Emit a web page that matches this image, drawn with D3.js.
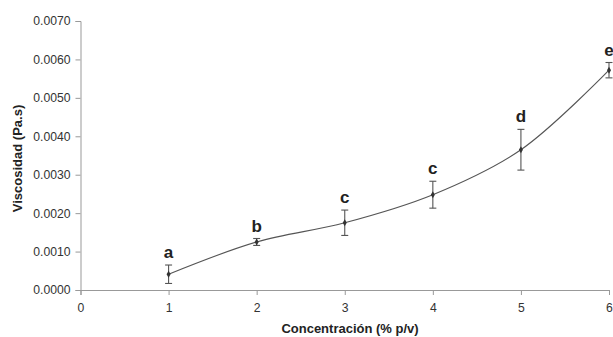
<!DOCTYPE html>
<html>
<head>
<meta charset="utf-8">
<script src="https://cdn.jsdelivr.net/npm/d3@7"></script>
<style>
  body { margin: 0; background: #fff; }
  svg { display: block; font-family: Arial, "Liberation Sans", sans-serif; }
</style>
</head>
<body>
<svg id="chart" width="613" height="337"></svg>
<script>
const concentracion = [1, 2, 3, 4, 5, 6];
const viscosidad = [0.00041, 0.00125, 0.00175, 0.00248, 0.00365, 0.00572];
const errores = [0.00024, 0.00009, 0.00033, 0.00035, 0.00053, 0.00020];
const letras = ["a", "b", "c", "c", "d", "e"];
const xTicks = [0, 1, 2, 3, 4, 5, 6];
const yTicks = [0, 0.001, 0.002, 0.003, 0.004, 0.005, 0.006, 0.007];

const width = 613, height = 337;
const margin = { top: 21, right: 4, bottom: 47, left: 80.5 };
const svg = d3.select("#chart");

const x = d3.scaleLinear().domain([0, 6]).range([margin.left, width - margin.right]);
const y = d3.scaleLinear().domain([0, 0.007]).range([height - margin.bottom, margin.top]);

const axisColor = "#999";
const textColor = "#333";

// y axis
const yAxis = svg.append("g")
    .attr("transform", `translate(${ margin.left },0)`)
    .call(d3.axisLeft(y).tickValues(yTicks).tickFormat(d3.format(".4f")).tickSize(5).tickPadding(5));
yAxis.selectAll("text").attr("font-size", 12.2).attr("fill", textColor).attr("font-family", "Arial, 'Liberation Sans', sans-serif");

// x axis
const xAxis = svg.append("g")
    .attr("transform", `translate(0,${ height - margin.bottom })`)
    .call(d3.axisBottom(x).tickValues(xTicks).tickFormat(d3.format("d")).tickSize(5).tickPadding(8));
xAxis.selectAll("text").attr("font-size", 12.2).attr("fill", textColor).attr("font-family", "Arial, 'Liberation Sans', sans-serif");

svg.selectAll(".domain, .tick line").attr("stroke", axisColor);

// smoothed line
const line = d3.line()
    .x((d, i) => x(concentracion[i]))
    .y(d => y(d))
    .curve(d3.curveCatmullRom.alpha(0.5));

svg.append("path")
    .datum(viscosidad)
    .attr("fill", "none")
    .attr("stroke", "#555")
    .attr("stroke-width", 1.1)
    .attr("d", line);

// error bars
const err = svg.append("g").attr("stroke", "#555").attr("stroke-width", 1.1);
concentracion.forEach((c, i) => {
    const cx = x(c);
    const top = y(viscosidad[i] + errores[i]);
    const bot = y(viscosidad[i] - errores[i]);
    err.append("line").attr("x1", cx).attr("x2", cx).attr("y1", top).attr("y2", bot);
    err.append("line").attr("x1", cx - 3.5).attr("x2", cx + 3.5).attr("y1", top).attr("y2", top);
    err.append("line").attr("x1", cx - 3.5).attr("x2", cx + 3.5).attr("y1", bot).attr("y2", bot);
});

// markers (small diamonds)
svg.append("g").selectAll("path")
    .data(viscosidad)
    .join("path")
    .attr("transform", (d, i) => `translate(${ x(concentracion[i]) },${ y(d) })`)
    .attr("d", d3.symbol(d3.symbolDiamond, 14))
    .attr("fill", "#333");

// significance letters
svg.append("g").selectAll("text")
    .data(letras)
    .join("text")
    .attr("x", (d, i) => x(concentracion[i]))
    .attr("y", (d, i) => y(viscosidad[i] + errores[i]) - 7)
    .attr("text-anchor", "middle")
    .attr("font-size", 17)
    .attr("font-weight", "bold")
    .attr("fill", "#222")
    .text(d => d);

// axis titles
svg.append("text")
    .attr("x", 350)
    .attr("y", 333)
    .attr("text-anchor", "middle")
    .attr("font-size", 13)
    .attr("font-weight", "bold")
    .attr("fill", "#222")
    .text("Concentración (% p/v)");

svg.append("text")
    .attr("transform", `translate(22,158.5) rotate(-90)`)
    .attr("text-anchor", "middle")
    .attr("font-size", 13)
    .attr("font-weight", "bold")
    .attr("fill", "#222")
    .text("Viscosidad (Pa.s)");
</script>
</body>
</html>
